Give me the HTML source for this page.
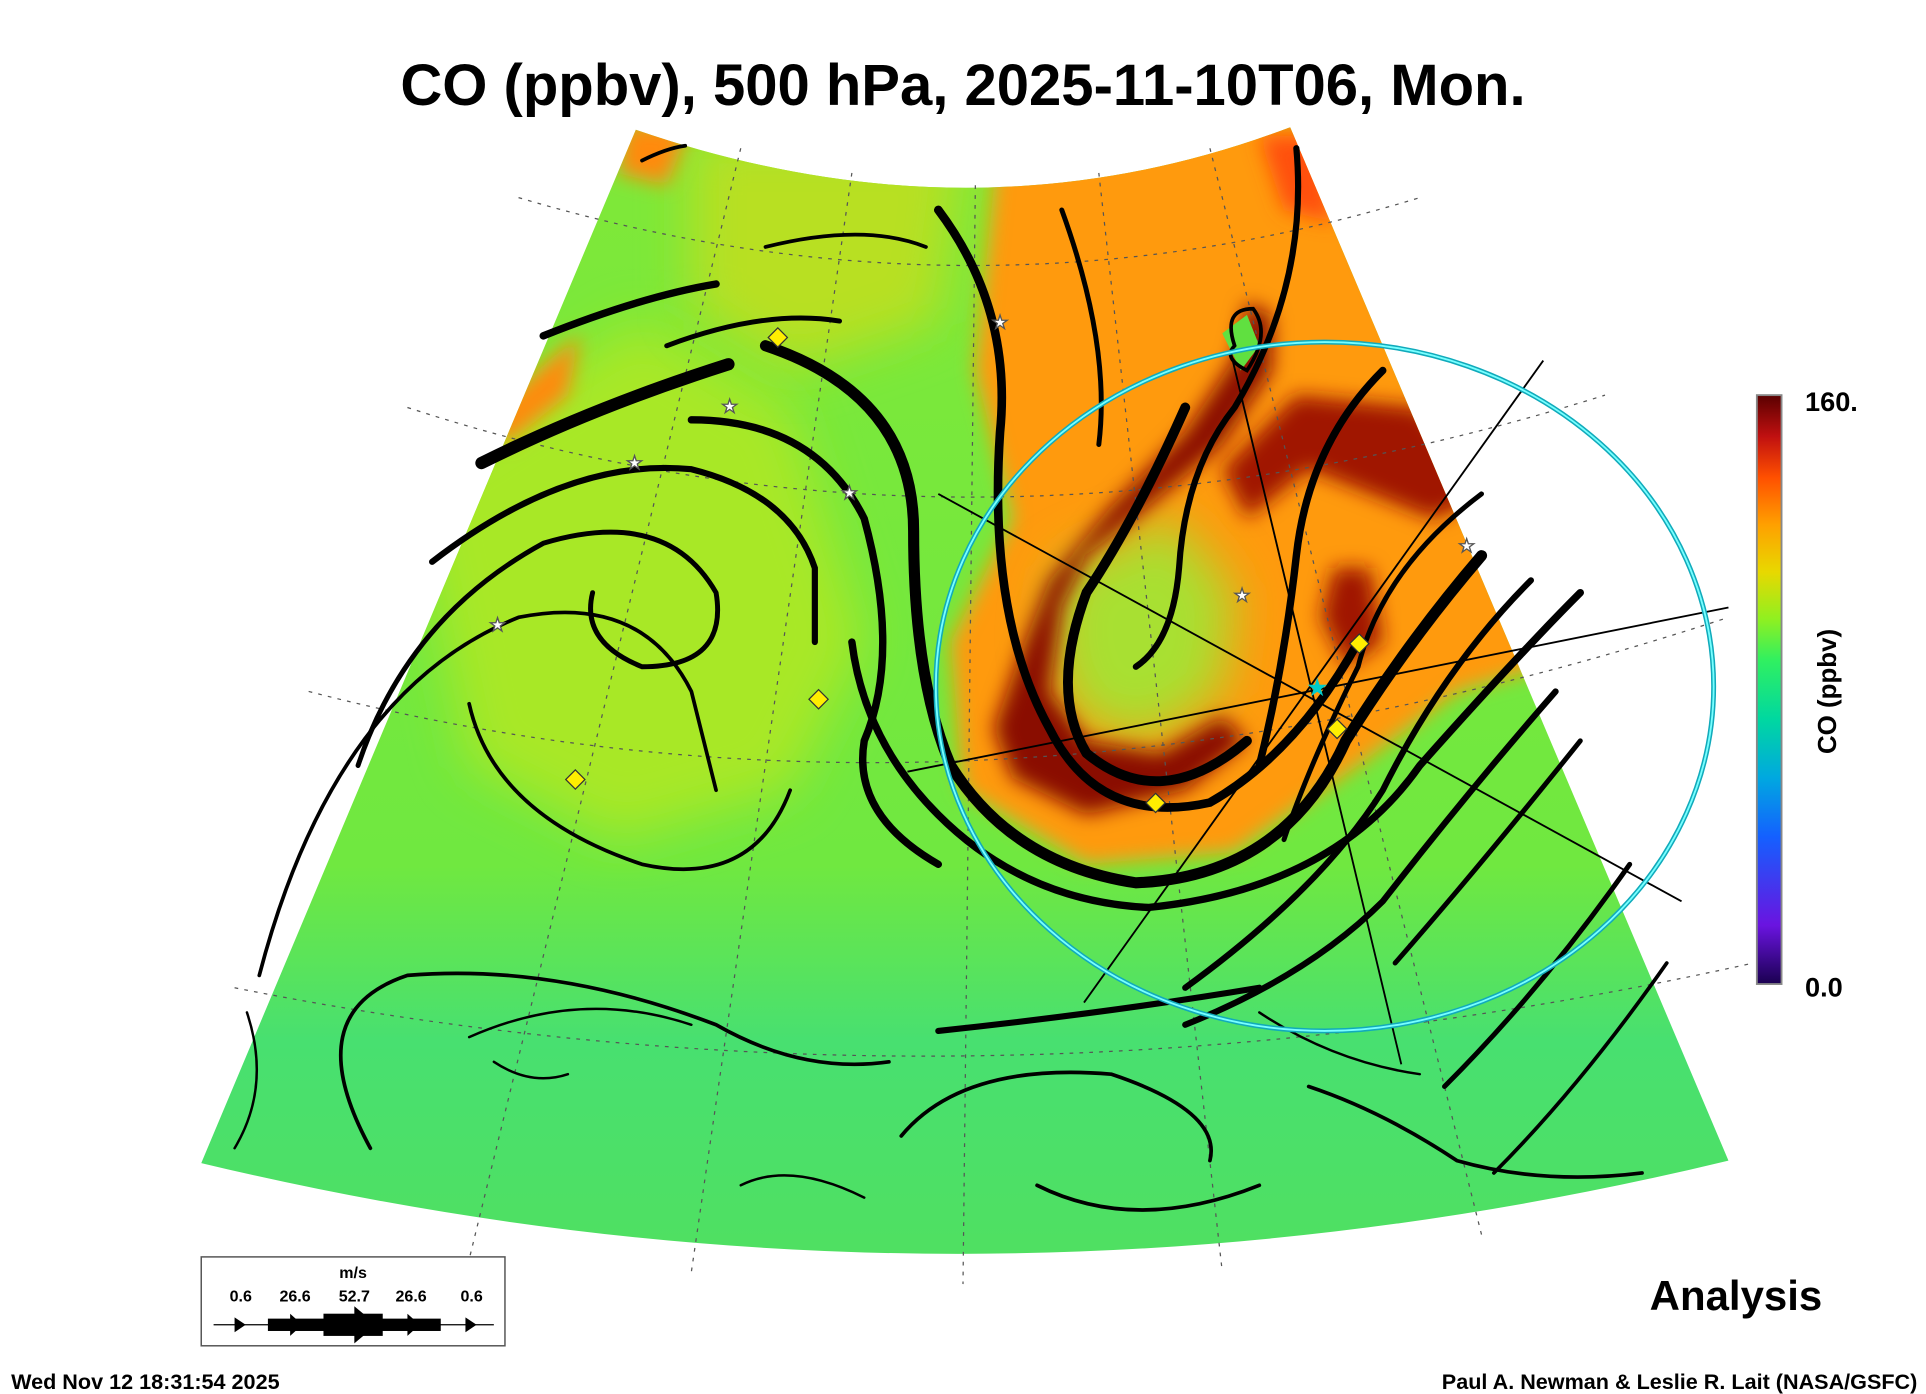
<!DOCTYPE html>
<html><head><meta charset="utf-8">
<style>
html,body{margin:0;padding:0;background:#fff;width:1926px;height:1394px;overflow:hidden}
svg{display:block}
text{font-family:"Liberation Sans",Arial,sans-serif;font-weight:bold;fill:#000}
text.star{fill:#fff;stroke:#555;stroke-width:0.5}
text.cstar{fill:#0cc}
</style></head>
<body>
<svg width="1926" height="1394" viewBox="0 0 1560 1129" xmlns="http://www.w3.org/2000/svg">
<defs>
<clipPath id="sector"><path d="M515,105 Q790,200 1045,103 L1400,940 Q780,1090 163,942 Z"/></clipPath>
<filter id="b20" x="-30%" y="-30%" width="160%" height="160%"><feGaussianBlur stdDeviation="20"/></filter>
<filter id="b8" x="-30%" y="-30%" width="160%" height="160%"><feGaussianBlur stdDeviation="8"/></filter>
<linearGradient id="cbar" x1="0" y1="1" x2="0" y2="0">
<stop offset="0" stop-color="#1a0050"/><stop offset="0.1" stop-color="#6a14e0"/><stop offset="0.25" stop-color="#1460ff"/>
<stop offset="0.35" stop-color="#00a8e0"/><stop offset="0.45" stop-color="#00d8a0"/><stop offset="0.55" stop-color="#30f060"/>
<stop offset="0.62" stop-color="#90f020"/><stop offset="0.7" stop-color="#e8d800"/><stop offset="0.78" stop-color="#ffa000"/>
<stop offset="0.86" stop-color="#ff5000"/><stop offset="0.93" stop-color="#c01010"/><stop offset="1" stop-color="#5a0000"/>
</linearGradient>
<linearGradient id="basegrad" x1="0" y1="0" x2="0" y2="1">
<stop offset="0" stop-color="#80e838"/><stop offset="0.65" stop-color="#70e840"/><stop offset="0.8" stop-color="#48e070"/><stop offset="1" stop-color="#50e060"/>
</linearGradient>
</defs>

<text x="780" y="85" font-size="47" text-anchor="middle">CO (ppbv), 500 hPa, 2025-11-10T06, Mon.</text>

<g clip-path="url(#sector)">
<rect x="150" y="90" width="1260" height="940" fill="url(#basegrad)"/>
<path d="M330,380 L520,260 L640,330 L700,520 L640,640 L500,680 L380,620 Z" fill="#a8e828" filter="url(#b20)"/>
<path d="M560,110 L780,110 L760,260 L640,300 L560,250 Z" fill="#b8e020" filter="url(#b20)"/>
<path d="M390,340 L470,270 L460,320 L410,360 Z" fill="#ff8a10" filter="url(#b8)"/>
<path d="M505,100 L560,100 L540,150 L500,140 Z" fill="#ff8a10" filter="url(#b8)"/>
<path d="M810,100 L1060,95 L1250,540 L1180,560 L1100,620 L1000,690 L880,700 L780,640 L770,520 L820,420 L790,300 Z" fill="#ff9a08" filter="url(#b8)"/>
<path d="M1020,110 L1070,110 L1080,180 L1040,170 Z" fill="#ff5010" filter="url(#b8)"/>
<path d="M860,460 L950,420 L1000,480 L990,560 L930,600 L870,580 L850,520 Z" fill="#a8e030" filter="url(#b20)"/>
<path d="M1010,245 L1030,255 L1030,300 L990,360 L930,410 L880,450 L860,490 L850,560 L880,600 L940,610 L990,580 L1010,600 L960,640 L880,660 L820,630 L805,590 L830,520 L850,470 L900,410 L960,350 L1000,290 Z" fill="#8a0a00" filter="url(#b8)"/>
<path d="M1050,320 L1150,330 L1210,400 L1160,420 L1110,400 L1060,380 L1010,420 L990,380 Z" fill="#a01500" filter="url(#b8)"/>
<path d="M1080,460 L1110,460 L1120,520 L1090,540 L1070,500 Z" fill="#a01500" filter="url(#b8)"/>
<path d="M990,270 L1010,255 L1020,280 L1005,300 Z" fill="#60e040"/>
</g>

<g fill="none" stroke="#555" stroke-width="1" stroke-dasharray="3,5">
<path d="M420,160 Q790,270 1150,160"/><path d="M330,330 Q790,480 1300,320"/><path d="M250,560 Q790,700 1400,500"/><path d="M190,800 Q790,920 1420,780"/>
<path d="M600,120 L380,1020"/><path d="M690,140 L560,1030"/><path d="M790,150 L780,1040"/><path d="M890,140 L990,1030"/><path d="M980,120 L1200,1000"/>
</g>

<g fill="none" stroke="#000" stroke-linecap="round">
<path d="M390,375 Q480,330 590,295" stroke-width="10"/>
<path d="M440,272 Q520,240 580,230" stroke-width="6"/>
<path d="M540,280 Q620,250 680,260" stroke-width="4"/>
<path d="M350,455 Q460,370 560,380 Q640,400 660,460 L660,520" stroke-width="5"/>
<path d="M290,620 Q330,500 440,440 Q540,410 580,480 Q590,540 520,540 Q470,520 480,480" stroke-width="4"/>
<path d="M210,790 Q270,560 420,500 Q520,480 560,560 L580,640" stroke-width="3"/>
<path d="M380,570 Q400,660 520,700 Q610,720 640,640" stroke-width="3"/>
<path d="M560,340 Q660,340 700,420 Q730,530 700,600 Q690,660 760,700" stroke-width="6"/>
<path d="M620,280 Q740,320 740,430 Q740,550 770,620 Q820,700 920,715 Q1040,710 1090,600 Q1140,520 1200,450" stroke-width="9"/>
<path d="M690,520 Q700,600 760,660 Q830,730 930,735 Q1080,720 1150,620 Q1230,530 1280,480" stroke-width="6"/>
<path d="M760,170 Q820,250 810,350 Q800,500 850,590 Q890,670 980,650 Q1050,610 1100,520" stroke-width="7"/>
<path d="M860,170 Q900,280 890,360" stroke-width="4"/>
<path d="M960,330 Q920,420 880,480 Q850,560 880,610 Q940,660 1010,600" stroke-width="8"/>
<path d="M1050,120 Q1060,230 1000,330 Q960,380 955,460 Q950,520 920,540" stroke-width="5"/>
<path d="M1000,280 Q990,250 1015,250 Q1030,270 1010,300 Q990,290 1000,280" stroke-width="3"/>
<path d="M1120,300 Q1060,360 1050,450 Q1040,540 1020,620" stroke-width="6"/>
<path d="M1200,400 Q1120,460 1100,540 Q1060,620 1040,680" stroke-width="4"/>
<path d="M1240,470 Q1170,540 1120,640 Q1070,720 960,800" stroke-width="5"/>
<path d="M1260,560 Q1190,640 1120,730 Q1060,790 960,830" stroke-width="5"/>
<path d="M1280,600 Q1200,700 1130,780" stroke-width="4"/>
<path d="M1320,700 Q1250,800 1170,880" stroke-width="4"/>
<path d="M1350,780 Q1280,880 1210,950" stroke-width="3"/>
<path d="M760,835 Q900,820 1020,800" stroke-width="5"/>
<path d="M300,930 Q240,820 330,790 Q450,780 580,830 Q650,870 720,860" stroke-width="3"/>
<path d="M380,840 Q470,800 560,830" stroke-width="2"/>
<path d="M400,860 Q430,880 460,870" stroke-width="2"/>
<path d="M730,920 Q780,860 900,870 Q990,900 980,940" stroke-width="3"/>
<path d="M840,960 Q920,1000 1020,960" stroke-width="3"/>
<path d="M700,970 Q640,940 600,960" stroke-width="2"/>
<path d="M1060,880 Q1120,900 1180,940 Q1250,960 1330,950" stroke-width="3"/>
<path d="M1020,820 Q1080,860 1150,870" stroke-width="2"/>
<path d="M190,930 Q220,880 200,820" stroke-width="2"/>
<path d="M620,200 Q700,180 750,200" stroke-width="3"/>
<path d="M520,130 Q540,120 555,118" stroke-width="3"/>
</g>

<g>
<g fill="#ffee00" stroke="#333" stroke-width="1">
<rect x="624" y="268" width="11" height="11" transform="rotate(45 630 274)"/>
<rect x="657" y="561" width="11" height="11" transform="rotate(45 663 567)"/>
<rect x="460" y="626" width="11" height="11" transform="rotate(45 466 632)"/>
<rect x="930" y="645" width="11" height="11" transform="rotate(45 936 651)"/>
<rect x="1095" y="516" width="11" height="11" transform="rotate(45 1101 522)"/>
<rect x="1077" y="585" width="11" height="11" transform="rotate(45 1083 591)"/>
</g>
<g font-size="15" text-anchor="middle"><text class="star" x="810" y="266">★</text><text class="star" x="591" y="334">★</text><text class="star" x="514" y="380">★</text><text class="star" x="688" y="404">★</text><text class="star" x="403" y="511">★</text><text class="star" x="1006" y="487">★</text><text class="star" x="1188" y="447">★</text></g>
</g>

<g stroke="#000" stroke-width="1.5">
<line x1="760" y1="400" x2="1362" y2="730"/><line x1="735" y1="625" x2="1400" y2="492"/><line x1="878" y1="812" x2="1250" y2="292"/><line x1="998" y1="290" x2="1135" y2="862"/>
</g>
<ellipse cx="1073" cy="556" rx="315" ry="279" fill="none" stroke="#1ab" stroke-width="4"/>
<ellipse cx="1073" cy="556" rx="315" ry="279" fill="none" stroke="#7ff" stroke-width="1.5"/>
<text class="cstar" x="1067" y="563" font-size="18" text-anchor="middle">★</text>

<g>
<rect x="1423" y="320" width="20" height="477" fill="url(#cbar)" stroke="#888" stroke-width="1.5"/>
<text x="1462" y="333" font-size="22">160.</text>
<text x="1462" y="807" font-size="22">0.0</text>
<text transform="translate(1487,560) rotate(-90)" font-size="21" text-anchor="middle">CO (ppbv)</text>
</g>

<g>
<rect x="163" y="1018" width="246" height="72" fill="#fff" stroke="#555" stroke-width="1.2"/>
<text x="286" y="1035" font-size="13" text-anchor="middle">m/s</text>
<g font-size="13" text-anchor="middle"><text x="195" y="1054">0.6</text><text x="239" y="1054">26.6</text><text x="287" y="1054">52.7</text><text x="333" y="1054">26.6</text><text x="382" y="1054">0.6</text></g>
<line x1="173" y1="1073" x2="400" y2="1073" stroke="#000" stroke-width="1"/>
<rect x="217" y="1068" width="140" height="10" fill="#000"/><rect x="262" y="1064" width="48" height="18" fill="#000"/>
<path d="M190,1067 L199,1073 L190,1079 Z M235,1064 L245,1073 L235,1082 Z M287,1058 L305,1073 L287,1088 Z M330,1064 L340,1073 L330,1082 Z M377,1067 L386,1073 L377,1079 Z" fill="#000"/>
</g>

<text x="1476" y="1061" font-size="34" text-anchor="end">Analysis</text>
<text x="9" y="1125" font-size="17.5">Wed Nov 12 18:31:54 2025</text>
<text x="1553" y="1125" font-size="17.5" text-anchor="end">Paul A. Newman &amp; Leslie R. Lait (NASA/GSFC)</text>
</svg>
</body></html>
